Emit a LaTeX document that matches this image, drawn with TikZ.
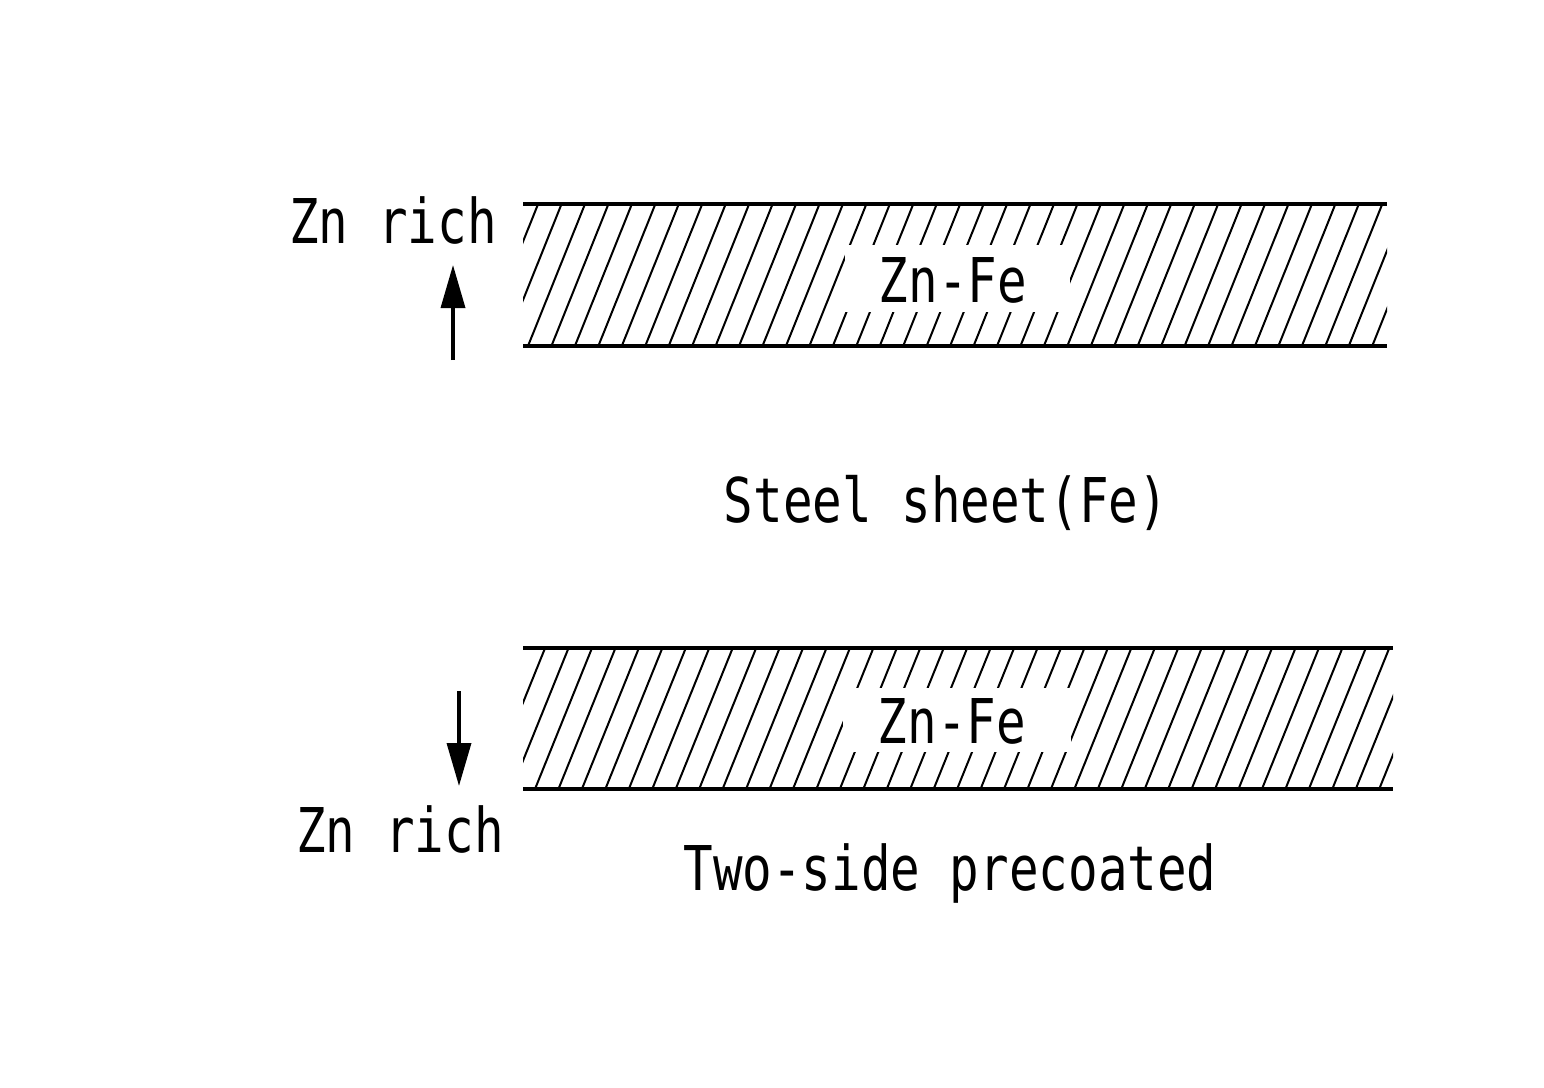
\documentclass[tikz,border=0pt]{standalone}
\usepackage{fontspec}
\usetikzlibrary{arrows.meta}
\newfontfamily\gothic[FakeStretch=0.797]{DejaVu Sans Mono}
\begin{document}
\begin{tikzpicture}[x=1pt,y=-1pt,
  lbl/.style={font=\gothic\fontsize{61.7}{70}\selectfont, inner sep=0pt, anchor=base},
  bandline/.style={line width=4pt},
  hatchline/.style={line width=2pt},
  gapbox/.style={fill=white, draw=none},
  zarrow/.style={line width=3.5pt, -{Triangle[length=43pt,width=24pt]}}]
\useasboundingbox[fill=white] (0,0) rectangle (1544,1087);

% top band hatching
\begin{scope}
  \clip (523,204) rectangle (1387,346);
  \foreach \k in {-3,...,38}
    \draw[hatchline] ({528+23.45*\k},346) -- ({585+23.45*\k},204);
\end{scope}
\fill[gapbox] (845,245) rectangle (1070,312);
\draw[bandline] (523,204) -- (1387,204);
\draw[bandline] (523,346) -- (1387,346);

% bottom band hatching
\begin{scope}
  \clip (523,648) rectangle (1393,789);
  \foreach \k in {-3,...,38}
    \draw[hatchline] ({535+23.45*\k},789) -- ({592+23.45*\k},648);
\end{scope}
\fill[gapbox] (843,688) rectangle (1071,752);
\draw[bandline] (523,648) -- (1393,648);
\draw[bandline] (523,789) -- (1393,789);

% labels
\node[lbl] (zntop) at (393,243) {Zn rich};
\node[lbl] (znfetop) at (953,302) {Zn-Fe};
\node[lbl] (steel) at (946,522) {Steel sheet(Fe)};
\node[lbl] (znfebot) at (952,743) {Zn-Fe};
\node[lbl] (znbot) at (400,852) {Zn rich};
\node[lbl] (twoside) at (950,890) {Two-side precoated};

% arrows
\coordinate (upstart) at (453,360);
\coordinate (upend) at (453,265);
\coordinate (downstart) at (459,691);
\coordinate (downend) at (459,786);
\draw[zarrow] (upstart) -- (upend);
\draw[zarrow] (downstart) -- (downend);
\end{tikzpicture}
\end{document}
